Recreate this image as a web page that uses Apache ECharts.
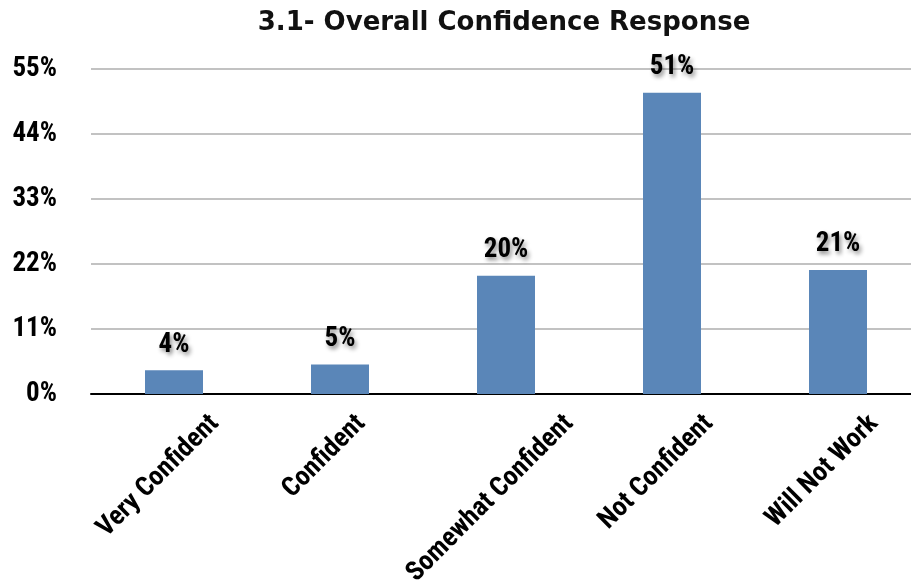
<!DOCTYPE html>
<html>
<head>
<meta charset="utf-8">
<script src="https://cdn.jsdelivr.net/npm/echarts@6/dist/echarts.min.js"></script>
<style>
  html, body { margin: 0; padding: 0; background: #fff; }
  #chart { width: 911px; height: 582px; }
</style>
</head>
<body>
<div id="chart"></div>
<script>
// Survey responses: share of respondents per confidence level
const categories = ['Very Confident', 'Confident', 'Somewhat Confident', 'Not Confident', 'Will Not Work'];
const responsePct = [4, 5, 20, 51, 21];
const yTicks = [0, 11, 22, 33, 44, 55];

const CHART_H = 582;
const GRID = { left: 91, right: -10, top: 69, bottom: 188 };
const AXIS_Y = CHART_H - GRID.bottom;

const LABEL_FAMILY = 'Roboto, "Open Sans", sans-serif';
const LABEL_WEIGHT = 'bold condensed';
const X_LABEL_SIZE = 27;
const VALUE_SIZE = 27;

// Rotated category labels: each label's slanted box is centred a little left of its
// tick and all label tops line up just under the axis.
const LABEL_TOP = AXIS_Y + 16;
const BOX_SHIFT = -27;
const S = Math.SQRT1_2;
const measureCtx = document.createElement('canvas').getContext('2d');
measureCtx.font = `${LABEL_WEIGHT} ${X_LABEL_SIZE}px ${LABEL_FAMILY}`;
const capH = 0.71 * X_LABEL_SIZE;
const reach = categories.map(t => S * (measureCtx.measureText(t).width + capH) / 2 + BOX_SHIFT - 5);
const anchorY = LABEL_TOP - Math.max(...reach) - 2;
const labelMargin = anchorY - AXIS_Y;
const xRich = {};
categories.forEach((t, i) => {
  const diff = reach[i] / S;              // padTop - padRight
  const sum = (LABEL_TOP - anchorY) / S;  // padTop + padRight
  xRich['c' + i] = {
    padding: [(sum + diff) / 2, (sum - diff) / 2, 0, 0],
    fontFamily: LABEL_FAMILY,
    fontWeight: LABEL_WEIGHT,
    fontSize: X_LABEL_SIZE,
    color: '#000'
  };
});

const chart = echarts.init(document.getElementById('chart'), null, { renderer: 'canvas' });

chart.setOption({
  backgroundColor: '#ffffff',
  animation: false,
  title: {
    text: '3.1- Overall Confidence Response',
    left: 499,
    textAlign: 'center',
    top: 5,
    textStyle: {
      fontFamily: '"DejaVu Sans", sans-serif',
      fontWeight: 'bold',
      fontSize: 26,
      color: '#111'
    }
  },
  grid: {
    left: GRID.left,
    right: GRID.right,
    top: GRID.top,
    bottom: GRID.bottom,
    containLabel: false,
    outerBoundsMode: 'none'
  },
  xAxis: {
    type: 'category',
    data: categories,
    axisLine: { lineStyle: { color: '#000', width: 2 } },
    axisTick: { show: false },
    axisLabel: {
      rotate: 45,
      interval: 0,
      margin: labelMargin,
      align: 'right',
      verticalAlign: 'top',
      formatter: (v, i) => `{c${i}|${v}}`,
      rich: xRich,
      fontFamily: LABEL_FAMILY,
      fontWeight: LABEL_WEIGHT,
      fontSize: X_LABEL_SIZE,
      color: '#000'
    }
  },
  yAxis: {
    type: 'value',
    min: yTicks[0],
    max: yTicks[yTicks.length - 1],
    interval: yTicks[1] - yTicks[0],
    axisLine: { show: false },
    axisTick: { show: false },
    splitLine: { lineStyle: { color: '#c2c2c2', width: 2 } },
    axisLabel: {
      margin: 34,
      padding: [6, 0, 0, 0],
      formatter: v => v + '%',
      fontFamily: LABEL_FAMILY,
      fontWeight: LABEL_WEIGHT,
      fontSize: 27,
      color: '#000'
    }
  },
  series: [{
    type: 'bar',
    data: responsePct,
    barWidth: 58,
    itemStyle: { color: '#5a86b8' },
    label: {
      show: true,
      position: 'top',
      distance: 12,
      formatter: p => p.value + '%',
      fontFamily: LABEL_FAMILY,
      fontWeight: LABEL_WEIGHT,
      fontSize: VALUE_SIZE,
      color: '#000',
      textShadowColor: 'rgba(0,0,0,0.45)',
      textShadowBlur: 4,
      textShadowOffsetX: 2,
      textShadowOffsetY: 3
    }
  }]
});
</script>
</body>
</html>
